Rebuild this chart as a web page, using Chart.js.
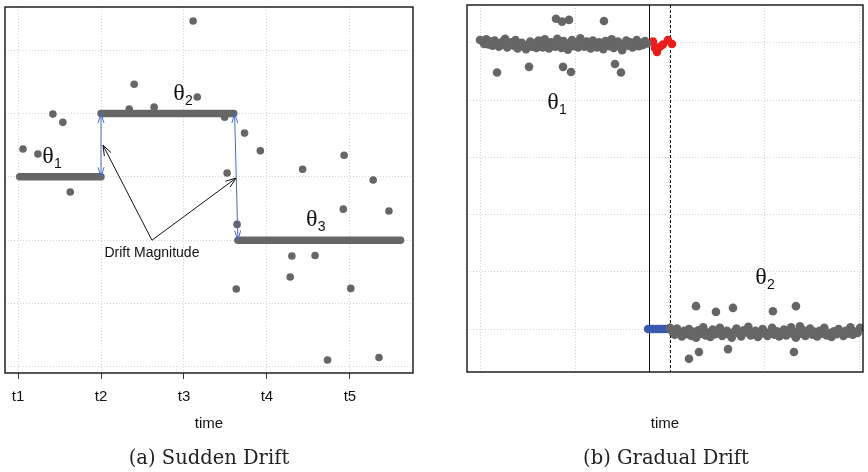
<!DOCTYPE html>
<html>
<head>
<meta charset="utf-8">
<script src="https://cdn.jsdelivr.net/npm/chart.js@4"></script>
<style>
  body { margin: 0; background: #fff; width: 868px; height: 472px; position: relative; overflow: hidden; }
  canvas { position: absolute; top: 0; }
  #suddenChart { left: 0; }
  #gradualChart { left: 440px; }
  .label { position: absolute; transform: translate(-50%, -50%); white-space: nowrap; color: #111; }
  .axisTitle { font: 15px "Liberation Sans", Arial, sans-serif; top: 422px; }
  .caption { font: 19.5px "DejaVu Serif", "Liberation Serif", serif; top: 457px; color: #222; }
</style>
</head>
<body>
<canvas id="suddenChart" width="440" height="472"></canvas>
<canvas id="gradualChart" width="428" height="472"></canvas>
<div class="label axisTitle" style="left:209px">time</div>
<div class="label axisTitle" style="left:665px">time</div>
<div class="label caption" style="left:209px">(a) Sudden Drift</div>
<div class="label caption" style="left:666px">(b) Gradual Drift</div>
<script>
// ---- sudden drift (left) ----
const suddenTicks = [1, 2, 3, 4, 5];
const suddenTickLabels = ['t1', 't2', 't3', 't4', 't5'];
const suddenGrid = [1, 2, 3, 4, 5, 6];
// concept levels: start time, end time, value
const levelStart = [1.02, 2.0, 3.65];
const levelEnd = [2.0, 3.60, 5.61];
const levelValue = [4, 5, 3];
// noisy samples away from the levels
const suddenOutX = [1.06, 1.24, 1.42, 1.54, 1.63, 2.34, 2.40, 2.64, 3.11, 3.16, 3.49, 3.52, 3.73, 3.92, 4.43, 4.93, 5.28,
                    3.64, 4.92, 5.47, 4.30, 4.58, 4.28, 3.63, 5.01, 4.73, 5.35];
const suddenOutY = [4.44, 4.36, 4.99, 4.86, 3.76, 5.07, 5.46, 5.10, 6.46, 5.26, 4.94, 4.06, 4.69, 4.41, 4.12, 4.34, 3.95,
                    3.25, 3.49, 3.46, 2.75, 2.76, 2.42, 2.23, 2.24, 1.11, 1.15];
// drift magnitude arrows (blue, double headed)
const magnitudeFrom = [[2.0, 4], [3.61, 5]];
const magnitudeTo = [[2.0, 5], [3.65, 3]];
// label pointer
const pointerBase = [2.614, 3.0];
const pointerTips = [[2.024, 4.5], [3.627, 3.98]];
const suddenThetas = [['1', 1.36, 4.31], ['2', 2.94, 5.31], ['3', 4.54, 3.32]];

// ---- gradual drift (right) ----
const gradualGrid = [0, 100, 200, 300, 400];
const gradualGridY = [0, 1, 2, 3, 4, 5];
const oldStart = 0, oldStep = 2.2;
const oldConcept = [
  5.05, 5.03, 4.98, 5.06, 4.97, 5.02, 4.95, 5.04, 4.99, 4.93,
  4.96, 5.03, 5.07, 4.92, 4.98, 5.01, 4.95, 5.05, 4.90, 4.97,
  5.00, 4.94, 4.89, 4.96, 5.02, 4.93, 4.99, 4.91, 5.04, 4.96,
  4.92, 5.06, 4.98, 4.90, 5.01, 4.95, 4.93, 5.07, 4.97, 4.91,
  5.03, 4.99, 4.88, 4.96, 5.05, 4.94, 5.00, 4.92, 5.08, 4.97,
  4.93, 5.02, 4.95, 4.90, 5.04, 4.98, 4.92, 5.01, 4.96, 4.89,
  5.03, 4.97, 4.94, 5.06, 4.91, 4.99, 5.02, 4.93, 4.87, 4.98,
  5.04, 4.95, 5.01, 4.92, 4.97, 5.05, 4.94, 5.00, 4.96, 5.03, 4.99
];
const oldOutX = [80.0, 86.3, 93.7, 130.5, 17.9, 51.6, 87.4, 95.8, 142.1, 148.4];
const oldOutY = [5.42, 5.37, 5.40, 5.38, 4.48, 4.58, 4.58, 4.49, 4.63, 4.48];
const newStart = 200, newStep = 2.5;
const newConcept = [
  0.02, -0.04, -0.10, 0.01, -0.07, -0.13, -0.03, -0.09, 0.00, -0.12,
  -0.05, -0.15, -0.02, -0.08, 0.03, -0.11, -0.06, -0.14, -0.01, -0.09,
  -0.04, 0.02, -0.12, -0.07, -0.03, -0.10, -0.15, -0.05, 0.01, -0.08,
  -0.13, -0.02, -0.06, 0.04, -0.11, -0.07, -0.03, -0.14, -0.09, 0.00,
  -0.05, -0.12, -0.08, 0.02, -0.10, -0.04, -0.13, -0.06, -0.01, -0.11,
  -0.07, 0.03, -0.09, -0.15, -0.04, -0.08, -0.02, -0.12, -0.06, 0.01,
  -0.10, -0.05, -0.13, -0.03, -0.08, 0.02, -0.11, -0.07, -0.14, -0.04,
  -0.09, 0.00, -0.06, -0.12, -0.03, -0.08, 0.03, -0.10, -0.05, -0.07, 0.02
];
const newOutX = [227.4, 248.4, 266.3, 308.4, 332.6, 336.8, 220.0, 230.5, 261.1, 330.5];
const newOutY = [0.40, 0.30, 0.37, 0.31, 0.40, 0.05, -0.52, -0.40, -0.35, -0.40];
// transition window: old concept still seen (red), new concept appearing (blue)
const redX = [182.1, 184.2, 186.3, 189.5, 192.6, 197.9, 202.1];
const redY = [5.02, 4.91, 4.84, 4.93, 4.97, 5.05, 4.98];
const blueX = [177, 180, 183, 186, 189, 192, 195, 198];
const blueY = [0, 0, 0, 0, 0, 0, 0, 0];
const driftStart = 178, driftEnd = 200;
const gradualThetas = [['1', 76.8, 3.95], ['2', 295.8, 0.89]];

const GREY = '#666666';
const gridLine = { color: '#d4d4d4', lineWidth: 1 };

function pts(xs, ys) { return xs.map((x, i) => ({ x, y: ys[i] })); }
function seq(start, step, ys) { return ys.map((y, i) => ({ x: start + i * step, y })); }

function arrowHead(ctx, x1, y1, x2, y2, len, ang) {
  const a = Math.atan2(y2 - y1, x2 - x1);
  ctx.beginPath();
  ctx.moveTo(x2 - len * Math.cos(a - ang), y2 - len * Math.sin(a - ang));
  ctx.lineTo(x2, y2);
  ctx.lineTo(x2 - len * Math.cos(a + ang), y2 - len * Math.sin(a + ang));
  ctx.stroke();
}

function drawTheta(ctx, sx, sy, sub, x, y) {
  const px = sx.getPixelForValue(x), py = sy.getPixelForValue(y);
  ctx.fillStyle = '#111';
  ctx.textBaseline = 'middle';
  ctx.textAlign = 'center';
  ctx.font = '24px "Liberation Serif", serif';
  ctx.fillText('\u03b8', px, py);
  ctx.textAlign = 'left';
  ctx.font = '14px "Liberation Sans", sans-serif';
  ctx.fillText(sub, px + 6, py + 7);
}

function boxPlugin(id) {
  return {
    id,
    afterDraw(chart) {
      const { ctx, chartArea: a } = chart;
      ctx.save();
      ctx.strokeStyle = '#111';
      ctx.lineWidth = 1.4;
      ctx.strokeRect(a.left, a.top, a.right - a.left, a.bottom - a.top);
      ctx.restore();
    }
  };
}

const suddenAnnotations = {
  id: 'suddenAnnotations',
  afterDatasetsDraw(chart) {
    const { ctx, scales: { x, y } } = chart;
    ctx.save();
    // blue magnitude arrows
    ctx.strokeStyle = '#4a68c4';
    ctx.lineWidth = 1;
    magnitudeFrom.forEach((f, i) => {
      const t = magnitudeTo[i];
      const x1 = x.getPixelForValue(f[0]), y1 = y.getPixelForValue(f[1]);
      const x2 = x.getPixelForValue(t[0]), y2 = y.getPixelForValue(t[1]);
      ctx.beginPath(); ctx.moveTo(x1, y1); ctx.lineTo(x2, y2); ctx.stroke();
      arrowHead(ctx, x1, y1, x2, y2, 10, 0.3);
      arrowHead(ctx, x2, y2, x1, y1, 10, 0.3);
    });
    // black pointers to the magnitude arrows
    ctx.strokeStyle = '#111';
    const bx = x.getPixelForValue(pointerBase[0]), by = y.getPixelForValue(pointerBase[1]);
    pointerTips.forEach(t => {
      const tx = x.getPixelForValue(t[0]), ty = y.getPixelForValue(t[1]);
      ctx.beginPath(); ctx.moveTo(bx, by); ctx.lineTo(tx, ty); ctx.stroke();
      arrowHead(ctx, bx, by, tx, ty, 11, 0.35);
    });
    ctx.fillStyle = '#111';
    ctx.font = '14px "Liberation Sans", Arial, sans-serif';
    ctx.textAlign = 'center';
    ctx.textBaseline = 'middle';
    ctx.fillText('Drift Magnitude', bx, by + 13);
    suddenThetas.forEach(t => drawTheta(ctx, x, y, t[0], t[1], t[2]));
    ctx.restore();
  }
};

const gradualAnnotations = {
  id: 'gradualAnnotations',
  beforeDatasetsDraw(chart) {
    const { ctx, chartArea: a, scales: { x } } = chart;
    ctx.save();
    ctx.strokeStyle = '#111';
    ctx.lineWidth = 1;
    const s = Math.round(x.getPixelForValue(driftStart)) + 0.5;
    ctx.beginPath(); ctx.moveTo(s, a.top); ctx.lineTo(s, a.bottom); ctx.stroke();
    const e = Math.round(x.getPixelForValue(driftEnd)) + 0.5;
    ctx.setLineDash([3, 2]);
    ctx.beginPath(); ctx.moveTo(e, a.top); ctx.lineTo(e, a.bottom); ctx.stroke();
    ctx.restore();
  },
  afterDatasetsDraw(chart) {
    const { ctx, scales: { x, y } } = chart;
    ctx.save();
    gradualThetas.forEach(t => drawTheta(ctx, x, y, t[0], t[1], t[2]));
    ctx.restore();
  }
};

// level segments: thick grey band with a faint dotted centre
const levelSets = [];
levelValue.forEach((v, i) => {
  const seg = [{ x: levelStart[i], y: v }, { x: levelEnd[i], y: v }];
  levelSets.push({ type: 'line', data: seg, showLine: true, borderColor: GREY, borderWidth: 7.5,
    borderCapStyle: 'round', pointRadius: 0 });
  levelSets.push({ type: 'line', data: seg, showLine: true, borderColor: 'rgba(255,255,255,0.45)', borderWidth: 1,
    borderDash: [1, 2.2], pointRadius: 0 });
});

new Chart(document.getElementById('suddenChart'), {
  type: 'scatter',
  data: {
    datasets: [
      ...levelSets,
      { data: pts(suddenOutX, suddenOutY), pointRadius: 3.8, backgroundColor: GREY, borderWidth: 0 }
    ]
  },
  options: {
    responsive: false,
    animation: false,
    layout: { padding: { left: 5, top: 7, right: 27, bottom: 0 } },
    plugins: { legend: { display: false }, tooltip: { enabled: false } },
    scales: {
      x: {
        type: 'linear', min: 0.843, max: 5.76,
        afterBuildTicks: s => { s.ticks = suddenTicks.map(v => ({ value: v })); },
        afterFit: s => { s.height = 99; },
        ticks: { callback: (v, i) => suddenTickLabels[i], color: '#111', padding: 9,
          font: { family: '"Liberation Sans", Arial, sans-serif', size: 15 }, maxRotation: 0 },
        grid: { ...gridLine, drawTicks: true, tickLength: 6, tickColor: '#333', tickWidth: 1 },
        border: { display: false, dash: [1, 2] }
      },
      y: {
        type: 'linear', min: 0.905, max: 6.68,
        afterBuildTicks: s => { s.ticks = suddenGrid.map(v => ({ value: v })); },
        afterFit: s => { s.width = 0; },
        ticks: { display: false },
        grid: { ...gridLine, drawTicks: false },
        border: { display: false, dash: [1, 2] }
      }
    }
  },
  plugins: [suddenAnnotations, boxPlugin('suddenBox')]
});

new Chart(document.getElementById('gradualChart'), {
  type: 'scatter',
  data: {
    datasets: [
      { data: seq(oldStart, oldStep, oldConcept), pointRadius: 4.3, backgroundColor: GREY, borderWidth: 0 },
      { data: pts(oldOutX, oldOutY), pointRadius: 4.3, backgroundColor: GREY, borderWidth: 0 },
      { data: seq(newStart, newStep, newConcept), pointRadius: 4.3, backgroundColor: GREY, borderWidth: 0 },
      { data: pts(newOutX, newOutY), pointRadius: 4.3, backgroundColor: GREY, borderWidth: 0 },
      { data: pts(redX, redY), pointRadius: 4.3, backgroundColor: '#ec1c1c', borderWidth: 0 },
      { data: pts(blueX, blueY), pointRadius: 4.3, backgroundColor: '#3b58b0', borderWidth: 0 }
    ]
  },
  options: {
    responsive: false,
    animation: false,
    layout: { padding: { left: 27, top: 5, right: 5, bottom: 0 } },
    plugins: { legend: { display: false }, tooltip: { enabled: false } },
    scales: {
      x: {
        type: 'linear', min: -13.7, max: 403.2,
        afterBuildTicks: s => { s.ticks = gradualGrid.map(v => ({ value: v })); },
        afterFit: s => { s.height = 100; },
        ticks: { display: false },
        grid: { ...gridLine, drawTicks: false },
        border: { display: false, dash: [1, 2] }
      },
      y: {
        type: 'linear', min: -0.75, max: 5.66,
        afterBuildTicks: s => { s.ticks = gradualGridY.map(v => ({ value: v })); },
        afterFit: s => { s.width = 0; },
        ticks: { display: false },
        grid: { ...gridLine, drawTicks: false },
        border: { display: false, dash: [1, 2] }
      }
    }
  },
  plugins: [gradualAnnotations, boxPlugin('gradualBox')]
});
</script>
</body>
</html>
